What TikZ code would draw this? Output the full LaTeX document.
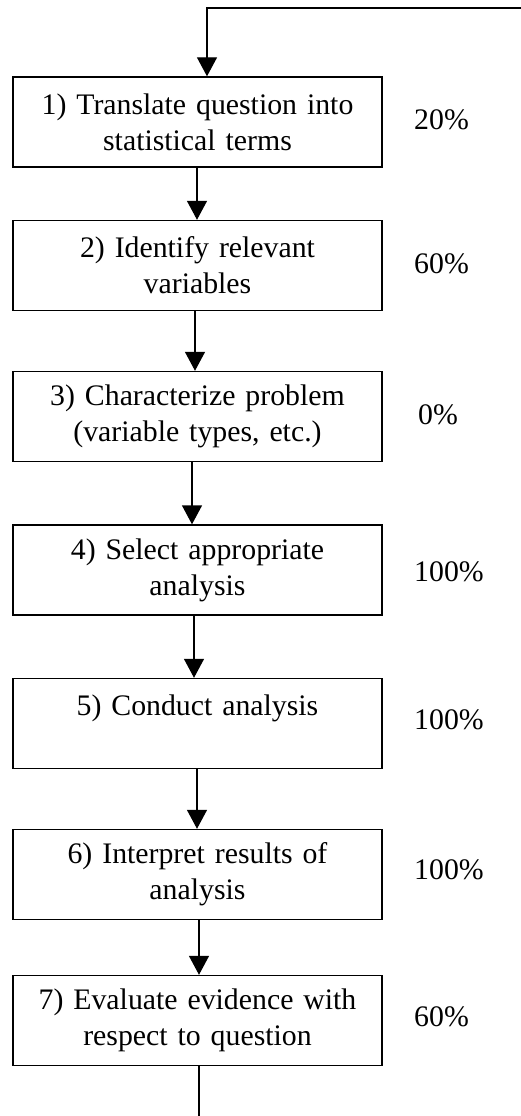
\documentclass[tikz,border=0pt]{standalone}
\usepackage{fontspec}
\setmainfont{Liberation Serif}
\usetikzlibrary{arrows.meta}
\begin{document}
\begin{tikzpicture}[x=1pt,y=-1pt,
  stepbox/.style={draw,line width=1.4pt,minimum width=369pt,minimum height=90pt,
    inner sep=0pt,text width=365pt,align=center,font=\fontsize{29.8}{36}\selectfont},
  pct/.style={anchor=west,inner sep=0pt,font=\fontsize{29.8}{36}\selectfont},
  conn/.style={line width=1.4pt},
  arr/.style={conn,-{Triangle[width=20pt,length=19pt]}}]
\useasboundingbox (0,0) rectangle (521,1116);
\node[stepbox] (b1) at (197.5,122) {1) Translate question into\\statistical terms};
\node[stepbox] (b2) at (197.5,265.5) {2) Identify relevant\\variables};
\node[stepbox] (b3) at (197.5,416.5) {3) Characterize problem\\(variable types, etc.)};
\node[stepbox] (b4) at (197.5,570) {4) Select appropriate\\analysis};
\node[stepbox] (b5) at (197.5,723.5) {5) Conduct analysis\\\mbox{}};
\node[stepbox] (b6) at (197.5,874.5) {6) Interpret results of\\analysis};
\node[stepbox] (b7) at (197.5,1020.5) {7) Evaluate evidence with\\respect to question};
\node[pct] (p1) at (414,120) {20\%};
\node[pct] (p2) at (414,264) {60\%};
\node[pct] (p3) at (418,415) {0\%};
\node[pct] (p4) at (414,572) {100\%};
\node[pct] (p5) at (414,720) {100\%};
\node[pct] (p6) at (414,870) {100\%};
\node[pct] (p7) at (414,1017) {60\%};
\coordinate (ent) at (521,8);
\coordinate (in) at (207,8);
\coordinate (out) at (199,1116);
\draw[arr] (ent) -- (in) -- (in |- b1.north);
\draw[arr] ([xshift=-0.5pt]b1.south) -- ([xshift=-0.5pt]b2.north);
\draw[arr] ([xshift=-2.5pt]b2.south) -- ([xshift=-2.5pt]b3.north);
\draw[arr] ([xshift=-5.5pt]b3.south) -- ([xshift=-5.5pt]b4.north);
\draw[arr] ([xshift=-3.5pt]b4.south) -- ([xshift=-3.5pt]b5.north);
\draw[arr] ([xshift=-0.5pt]b5.south) -- ([xshift=-0.5pt]b6.north);
\draw[arr] ([xshift=1.5pt]b6.south) -- ([xshift=1.5pt]b7.north);
\draw[conn] (b7.south -| out) -- (out);
\end{tikzpicture}
\end{document}
